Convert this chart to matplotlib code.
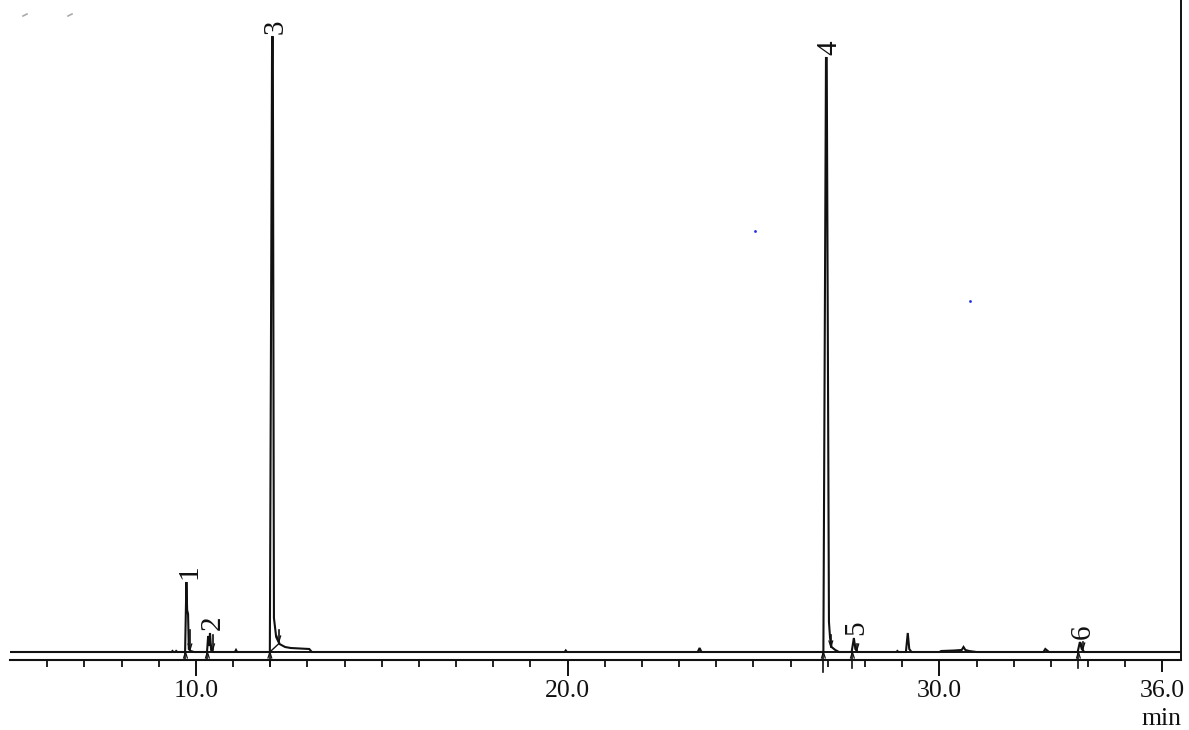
import matplotlib
matplotlib.use("Agg")
import matplotlib.pyplot as plt
from matplotlib.ticker import FixedLocator, NullFormatter
import matplotlib.transforms as mtransforms

plt.rcParams["font.family"] = ["Liberation Serif", "DejaVu Serif"]

# Detector trace (retention time in min, signal in arbitrary units)
trace_time = [
    5.00, 9.35, 9.37, 9.40, 9.45, 9.47, 9.50,
    9.71, 9.745, 9.765, 9.79, 9.81, 9.86, 9.95,
    10.30, 10.33, 10.355, 10.38, 10.41, 10.46,
    11.05, 11.08, 11.11,
    11.99, 12.05, 12.07, 12.10, 12.16, 12.25, 12.40, 12.55, 13.05, 13.12,
    19.92, 19.95, 19.98,
    23.50, 23.55, 23.60,
    26.88, 26.95, 26.97, 27.03, 27.06, 27.10, 27.20, 27.30,
    27.64, 27.70, 27.74, 27.80,
    28.85, 28.87, 28.90,
    29.10, 29.15, 29.19, 29.25,
    30.00, 30.05, 30.40, 30.60, 30.65, 30.70, 30.80, 31.00,
    32.80, 32.85, 32.95,
    33.72, 33.78, 33.83, 33.90,
    36.50,
]
trace_signal = [
    0, 0, 1, 0, 0, 1, 0,
    0, 70, 42, 38, 3, 1, 0,
    0, 16, 6, 19, 2, 0,
    0, 2, 0,
    0, 615, 615, 34, 15, 8, 5, 4, 3, 0,
    0, 1.5, 0,
    0, 4, 0,
    0, 594, 594, 30, 14, 5, 2, 0,
    0, 14, 3, 0,
    0, 1, 0,
    0, 19, 3, 0,
    0, 1, 1.5, 2, 5, 2, 1, 0,
    0, 3, 0,
    0, 10, 3, 0,
    0,
]

# Identified peaks
peak_numbers = ["1", "2", "3", "4", "5", "6"]
peak_times = [9.745, 10.38, 12.06, 26.96, 27.70, 33.78]
peak_heights = [70, 19, 615, 594, 14, 10]

# Integration markers: peak start (below baseline) and peak end (arrow down)
start_times = [9.72, 10.31, 11.99, 26.88, 27.66, 33.74]
start_depths = [-8, -8, -14, -20, -16, -16]
end_times = [9.84, 10.45, 12.23, 27.08, 27.78, 33.86]
end_tops = [22, 17, 22, 17, 8, 10]
end_bottoms = [2, 2, 10, 5, 2, 3]

# Axis ticks
major_ticks = [10, 20, 30, 36]
major_labels = ["10.0", "20.0", "30.0", "36.0"]
minor_ticks = list(range(6, 37))

# Stray plotter dots
dot_times = [25.05, 30.83]
dot_signal = [421, 351]

fig = plt.figure(figsize=(11.89, 7.30), dpi=100)
ax = fig.add_axes([10 / 1189, 70 / 730, 1171 / 1189, 660 / 730])
ax.set_xlim(5.0, 36.5)
ax.set_ylim(-8, 652)

ink = "#111111"
ax.plot(trace_time, trace_signal, color=ink, lw=1.5, solid_joinstyle="miter")
ax.plot([5.0, 36.5], [0, 0], color=ink, lw=1.4)

# Integration baseline under the tailing peak 3
ax.plot([11.99, 12.25], [0, 9], color=ink, lw=1.0)

for t, d in zip(start_times, start_depths):
    ax.plot([t, t], [0, d], color=ink, lw=1.2, clip_on=False)
    ax.plot([t - 0.05, t, t + 0.05], [-6, 0, -6], color=ink, lw=0.9, clip_on=False)

for t, top, bot in zip(end_times, end_tops, end_bottoms):
    ax.plot([t, t], [top, bot], color=ink, lw=1.2)
    ax.plot([t - 0.05, t, t + 0.05], [bot + 6, bot, bot + 6], color=ink, lw=0.9)

offset = mtransforms.offset_copy(ax.transData, fig=fig, x=2, y=2, units="points")
for lab, t, h in zip(peak_numbers, peak_times, peak_heights):
    ax.text(t, h, lab, rotation=90, ha="center", va="bottom", fontsize=21,
            color=ink, transform=offset)

ax.scatter(dot_times, dot_signal, s=4, color="#2030e0", linewidths=0, zorder=3)

# Frame: bottom axis and right edge only
for side in ("top", "left"):
    ax.spines[side].set_visible(False)
ax.spines["bottom"].set_linewidth(1.5)
ax.spines["right"].set_linewidth(1.4)
ax.spines["bottom"].set_color(ink)
ax.spines["right"].set_color(ink)
ax.yaxis.set_visible(False)

ax.xaxis.set_major_locator(FixedLocator(major_ticks))
ax.set_xticklabels(major_labels)
ax.xaxis.set_minor_locator(FixedLocator(minor_ticks))
ax.xaxis.set_minor_formatter(NullFormatter())
ax.tick_params(axis="x", which="major", length=11.5, width=1.4, pad=3,
               labelsize=18.5, colors=ink)
ax.tick_params(axis="x", which="minor", length=5, width=1.3, colors=ink)
ax.xaxis.get_major_ticks()[3].tick1line.set_markersize(8.6)

fig.text(1181 / 1189, 5 / 730, "min", ha="right", va="baseline",
         fontsize=18.5, color=ink)

# Faint marks in the upper-left corner
for x in (25, 70):
    fig.lines.append(plt.Line2D([(x - 2) / 1189, (x + 2) / 1189],
                                [1 - 16 / 730, 1 - 14 / 730],
                                transform=fig.transFigure, color="#aaaaaa", lw=1.2))

fig.savefig("out.png", dpi=100)
